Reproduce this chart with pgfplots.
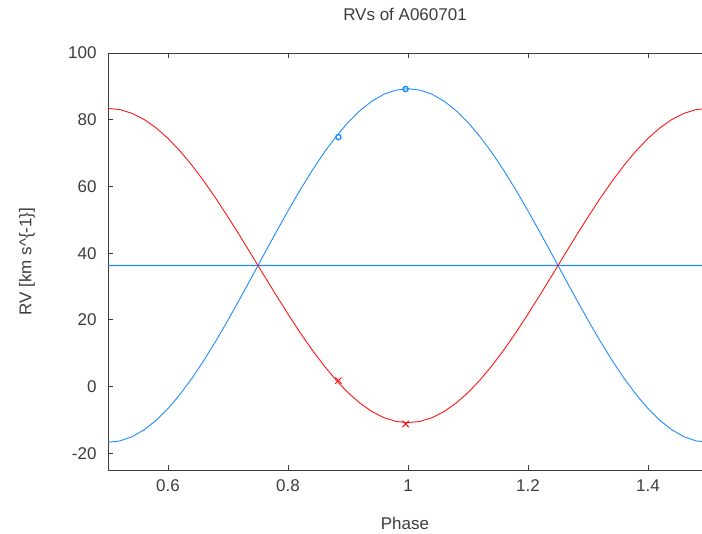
\documentclass[border=0pt]{standalone}
\usepackage{pgfplots}
\pgfplotsset{compat=1.18}
\usepackage{pgfplotstable}
\usepackage{fontspec}
\setmainfont{Liberation Sans}

\definecolor{rvblue}{RGB}{30,140,255}
\definecolor{rvred}{RGB}{255,20,20}
\definecolor{txtgray}{RGB}{60,60,60}

% phase, primary (blue) and secondary (red) model RVs
\pgfplotstableread{
phase blue red
0.50 -16.70 83.40
0.52 -16.28 83.03
0.54 -15.04 81.92
0.56 -12.98 80.09
0.58 -10.14 77.57
0.60 -6.58 74.41
0.62 -2.34 70.63
0.64 2.52 66.32
0.66 7.90 61.54
0.68 13.73 56.35
0.70 19.92 50.85
0.72 26.37 45.13
0.74 32.97 39.26
0.76 39.63 33.34
0.78 46.23 27.47
0.80 52.68 21.75
0.82 58.87 16.25
0.84 64.70 11.06
0.86 70.08 6.28
0.88 74.94 1.97
0.90 79.18 -1.80
0.92 82.74 -4.97
0.94 85.58 -7.49
0.96 87.64 -9.32
0.98 88.88 -10.43
1.00 89.30 -10.80
1.02 88.88 -10.43
1.04 87.64 -9.32
1.06 85.58 -7.49
1.08 82.74 -4.97
1.10 79.18 -1.80
1.12 74.94 1.97
1.14 70.08 6.28
1.16 64.70 11.06
1.18 58.87 16.25
1.20 52.68 21.75
1.22 46.23 27.47
1.24 39.63 33.34
1.26 32.97 39.26
1.28 26.37 45.13
1.30 19.92 50.85
1.32 13.73 56.35
1.34 7.90 61.54
1.36 2.52 66.32
1.38 -2.34 70.63
1.40 -6.58 74.41
1.42 -10.14 77.57
1.44 -12.98 80.09
1.46 -15.04 81.92
1.48 -16.28 83.03
1.50 -16.70 83.40
}\rvmodel

% systemic velocity
\pgfplotstableread{
phase gamma
0.50 36.300
1.50 36.305
}\rvgamma

\begin{document}
\begin{tikzpicture}
\useasboundingbox (-108bp,-64bp) rectangle (594bp,470bp);
\begin{axis}[
  at={(0,0)}, anchor=south west,
  scale only axis,
  width=594bp, height=417bp,
  xmin=0.5, xmax=1.49,
  ymin=-25, ymax=100,
  axis x line*=box, axis y line*=left,
  axis line style={color=txtgray, line width=0.8bp},
  tick align=inside,
  major tick length=5bp,
  tick style={color=txtgray, line width=0.8bp},
  xtick={0.6,0.8,1.0,1.2,1.4},
  ytick={-20,0,20,40,60,80,100},
  xticklabels={0.6,0.8,1,1.2,1.4},
  font=\fontsize{17bp}{20bp}\selectfont,
  /pgf/number format/assume math mode=true,
  ticklabel style={text=txtgray},
  yticklabel style={xshift=-8bp},
  xticklabel style={yshift=-6bp},
  title={RVs of A060701},
  title style={at={(axis description cs:0.5,1.0791)}, anchor=center, text=txtgray},
  xlabel={Phase},
  xlabel style={at={(axis description cs:0.5,-0.1271)}, anchor=center, text=txtgray},
  ylabel={RV [km s\^{}\{-1\}]},
  ylabel style={at={(axis description cs:-0.1364,0.5)}, anchor=center, rotate=0, text=txtgray},
]
\addplot[color=rvblue, line width=1.4bp] table[x=phase, y=gamma] {\rvgamma};
\addplot[draw=rvblue, line width=0.9bp] table[x=phase, y=blue] {\rvmodel};
\addplot[draw=rvred, line width=0.9bp] table[x=phase, y=red] {\rvmodel};
\addplot[only marks, rvblue, mark=o, mark size=2.6bp, line width=1.4bp]
  coordinates {(0.884,74.8) (0.996,89.2)};
\addplot[only marks, rvred, mark=x, mark size=4.5bp, line width=1bp]
  coordinates {(0.884,1.8) (0.996,-11.2)};
\end{axis}
\end{tikzpicture}
\end{document}
